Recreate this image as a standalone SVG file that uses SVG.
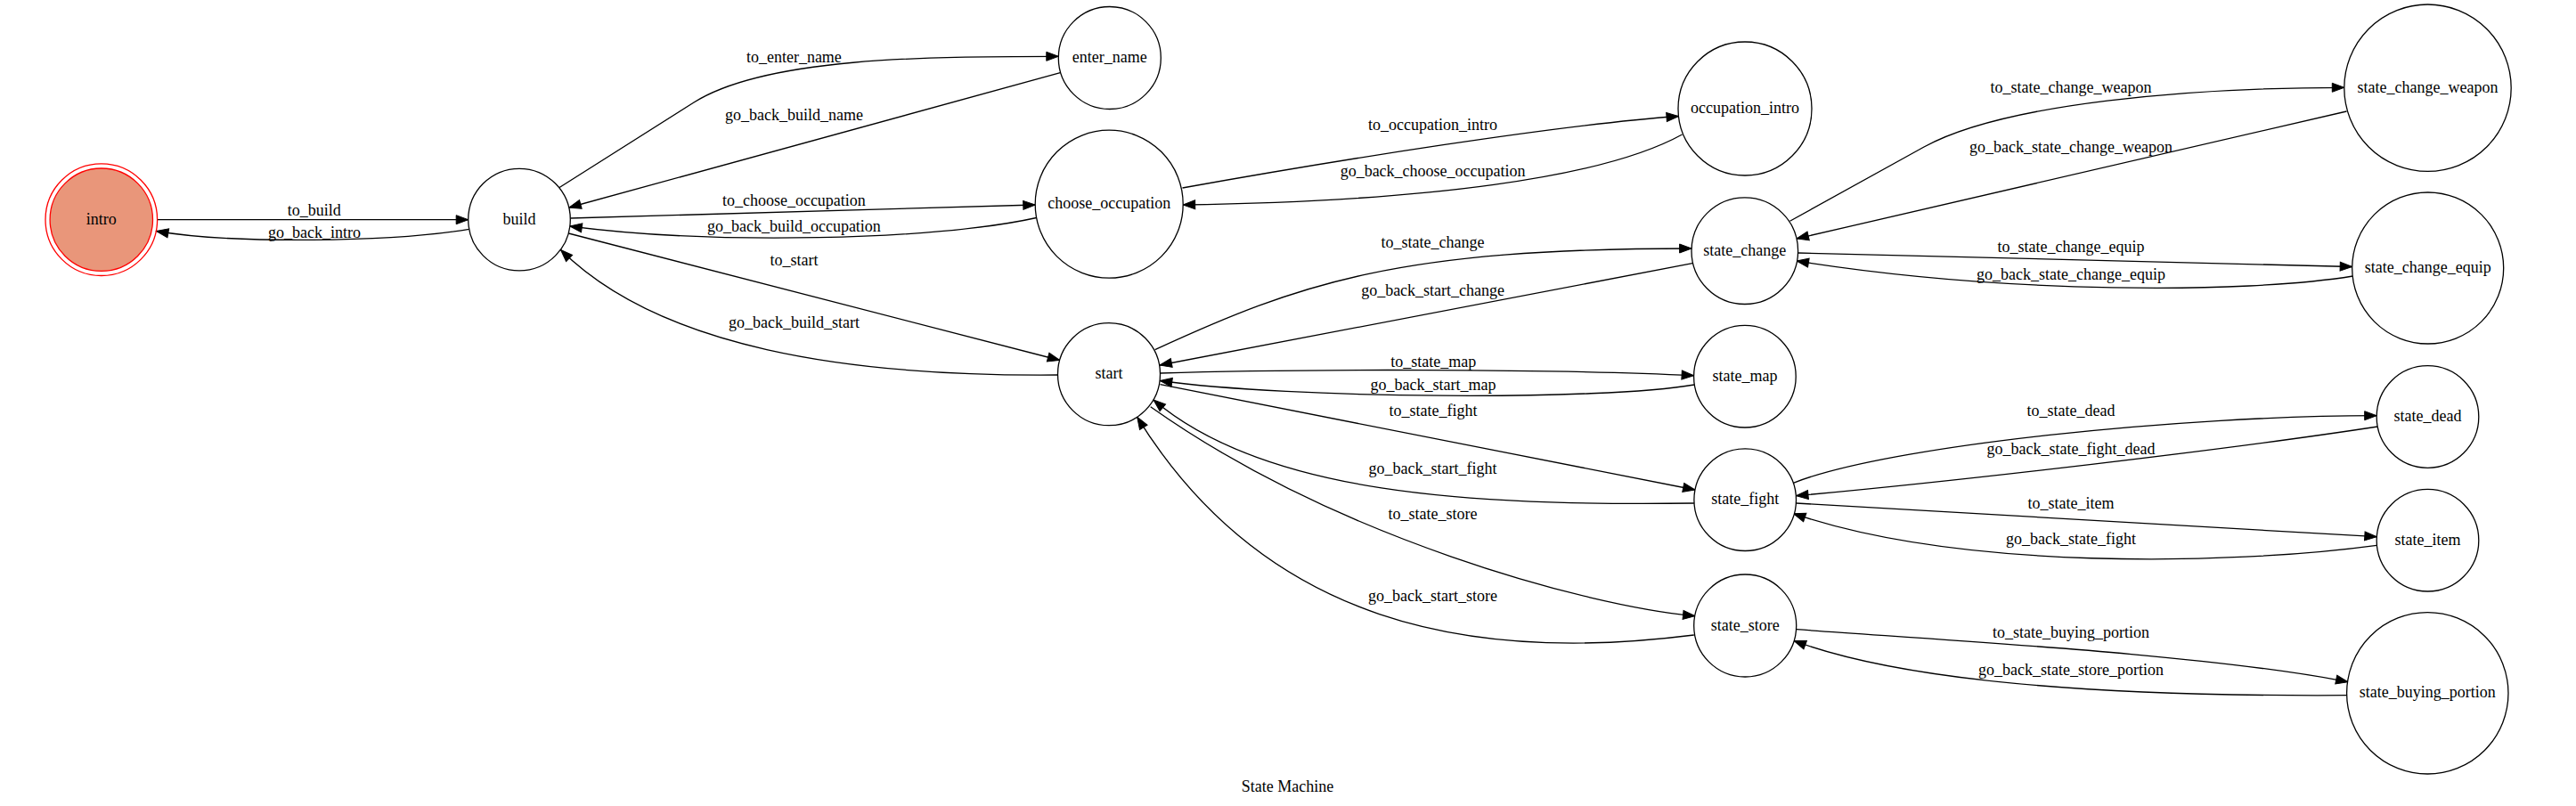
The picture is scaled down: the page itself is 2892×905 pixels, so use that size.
<svg xmlns="http://www.w3.org/2000/svg" width="2892" height="905" viewBox="0 0 2892 905">
<style>
text{font-family:"Liberation Serif","Times New Roman",serif;font-size:18px;fill:#000;text-anchor:middle}
.n{fill:#fff;stroke:#000;stroke-width:1.3}
.e{fill:none;stroke:#000;stroke-width:1.3;marker-end:url(#arr)}
</style>
<defs>
<marker id="arr" markerUnits="userSpaceOnUse" markerWidth="16" markerHeight="12" refX="13.5" refY="5" orient="auto" viewBox="-1 -1 16 12" overflow="visible">
<path d="M0,0 L13.5,5 L0,10 z" fill="#000" stroke="#000" stroke-width="1"/>
</marker>
</defs>
<rect width="2892" height="905" fill="#fff"/>
<g id="connectors">
<g id="e-to_build"><path class="e" d="M176.6,246.7 L525.7,246.7"/><text x="352.7" y="241.7">to_build</text></g>
<g id="e-go_back_intro"><path class="e" d="M526.7,257.3 C440,272 260,274 175.5,259.5"/><text x="353" y="266.7">go_back_intro</text></g>
<g id="e-to_enter_name"><path class="e" d="M627.7,210.7 L779,115 C859,64.6 1039,63.3 1188.3,63.3"/><text x="891.4" y="70">to_enter_name</text></g>
<g id="e-go_back_build_name"><path class="e" d="M1190.3,81.7 L638.8,233"/><text x="891.4" y="135">go_back_build_name</text></g>
<g id="e-to_choose_occupation"><path class="e" d="M640.3,245 L1162.3,230"/><text x="891.4" y="231">to_choose_occupation</text></g>
<g id="e-go_back_build_occupation"><path class="e" d="M1163.6,244.5 C1050,270 800,275 639.8,254"/><text x="891.4" y="260">go_back_build_occupation</text></g>
<g id="e-to_start"><path class="e" d="M638.3,262 L1189.7,404.5"/><text x="891.4" y="298">to_start</text></g>
<g id="e-go_back_build_start"><path class="e" d="M1187.5,421 C950,423 740,390 629.5,280.5"/><text x="891.4" y="368">go_back_build_start</text></g>
<g id="e-to_occupation_intro"><path class="e" d="M1327.5,211 C1500,180 1750,140 1884.5,130.5"/><text x="1608.6" y="146">to_occupation_intro</text></g>
<g id="e-go_back_choose_occupation"><path class="e" d="M1888.5,151 C1800,200 1600,226 1328.2,230"/><text x="1608.6" y="198">go_back_choose_occupation</text></g>
<g id="e-to_state_change"><path class="e" d="M1296.7,392.7 C1460,317.5 1570,279 1899.1,279"/><text x="1608.6" y="278.3">to_state_change</text></g>
<g id="e-go_back_start_change"><path class="e" d="M1900,295.7 L1302,410"/><text x="1608.6" y="331.7">go_back_start_change</text></g>
<g id="e-to_state_map"><path class="e" d="M1302.5,419 C1450,414 1750,414 1901.6,421.7"/><text x="1609.3" y="411.7">to_state_map</text></g>
<g id="e-go_back_start_map"><path class="e" d="M1902,432 C1800,450 1450,448 1302.3,427.5"/><text x="1609" y="438.3">go_back_start_map</text></g>
<g id="e-to_state_fight"><path class="e" d="M1302.5,431.7 L1903,550"/><text x="1609" y="467.3">to_state_fight</text></g>
<g id="e-go_back_start_fight"><path class="e" d="M1901.9,565 C1650,568 1420,555 1295,449"/><text x="1608.6" y="531.7">go_back_start_fight</text></g>
<g id="e-to_state_store"><path class="e" d="M1291.7,456.7 C1500,604 1780,680 1903,691.7"/><text x="1608.6" y="583.3">to_state_store</text></g>
<g id="e-go_back_start_store"><path class="e" d="M1901.8,713 C1650,745 1420,700 1276.7,468.3"/><text x="1608.6" y="675">go_back_start_store</text></g>
<g id="e-to_state_change_weapon"><path class="e" d="M2009.5,248.3 L2160,165 C2250,115.5 2461.7,98.3 2631.8,98.3"/><text x="2325" y="104">to_state_change_weapon</text></g>
<g id="e-go_back_state_change_weapon"><path class="e" d="M2634.5,125 L2017,268"/><text x="2325" y="171">go_back_state_change_weapon</text></g>
<g id="e-to_state_change_equip"><path class="e" d="M2018.5,284 L2640.7,299.5"/><text x="2325" y="282.7">to_state_change_equip</text></g>
<g id="e-go_back_state_change_equip"><path class="e" d="M2641.5,310 C2520,330 2250,330 2017,293"/><text x="2325" y="314.3">go_back_state_change_equip</text></g>
<g id="e-to_state_dead"><path class="e" d="M2013.3,542.3 C2120,500 2450,466.7 2668.2,466.7"/><text x="2325" y="466.7">to_state_dead</text></g>
<g id="e-go_back_state_fight_dead"><path class="e" d="M2669.3,479 C2500,505 2200,540 2016.5,556.7"/><text x="2325" y="510">go_back_state_fight_dead</text></g>
<g id="e-to_state_item"><path class="e" d="M2016.5,565 L2668.3,602.7"/><text x="2325" y="571">to_state_item</text></g>
<g id="e-go_back_state_fight"><path class="e" d="M2668.3,612.3 C2500,635 2200,640 2013.5,576.7"/><text x="2325" y="611">go_back_state_fight</text></g>
<g id="e-to_state_buying_portion"><path class="e" d="M2016.7,706.7 C2200,720 2480,735 2636,765.7"/><text x="2325" y="716">to_state_buying_portion</text></g>
<g id="e-go_back_state_store_portion"><path class="e" d="M2634.6,780.7 C2400,782 2150,770 2014,719.5"/><text x="2325" y="758.3">go_back_state_store_portion</text></g>
</g>
<g id="intro"><circle cx="113.8" cy="246.7" r="62.8" fill="none" stroke="#ff0000" stroke-width="1.3"/><circle cx="113.8" cy="246.7" r="57.7" fill="#e9967a" stroke="#ff0000" stroke-width="1.3"/><text x="113.8" y="251.7">intro</text></g>
<g id="build"><circle class="n" cx="583" cy="246.6" r="57.3"/><text x="583" y="251.6">build</text></g>
<g id="enter_name"><circle class="n" cx="1245.8" cy="65" r="57.5"/><text x="1245.8" y="70">enter_name</text></g>
<g id="choose_occupation"><circle class="n" cx="1245.2" cy="229.2" r="83"/><text x="1245.2" y="234.2">choose_occupation</text></g>
<g id="start"><circle class="n" cx="1245" cy="420.2" r="57.5"/><text x="1245" y="425.2">start</text></g>
<g id="occupation_intro"><circle class="n" cx="1959" cy="122" r="75"/><text x="1959" y="127">occupation_intro</text></g>
<g id="state_change"><circle class="n" cx="1958.8" cy="281.7" r="59.8"/><text x="1958.8" y="286.7">state_change</text></g>
<g id="state_map"><circle class="n" cx="1958.9" cy="422.7" r="57.3"/><text x="1958.9" y="427.7">state_map</text></g>
<g id="state_fight"><circle class="n" cx="1959.2" cy="561.2" r="57.3"/><text x="1959.2" y="566.2">state_fight</text></g>
<g id="state_store"><circle class="n" cx="1959.2" cy="702.5" r="57.5"/><text x="1959.2" y="707.5">state_store</text></g>
<g id="state_change_weapon"><circle class="n" cx="2725.5" cy="98.7" r="93.7"/><text x="2725.5" y="103.7">state_change_weapon</text></g>
<g id="state_change_equip"><circle class="n" cx="2725.7" cy="301" r="85"/><text x="2725.7" y="306">state_change_equip</text></g>
<g id="state_dead"><circle class="n" cx="2725.5" cy="468" r="57.3"/><text x="2725.5" y="473">state_dead</text></g>
<g id="state_item"><circle class="n" cx="2725.5" cy="606.7" r="57.3"/><text x="2725.5" y="611.7">state_item</text></g>
<g id="state_buying_portion"><circle class="n" cx="2725.3" cy="778.3" r="90.7"/><text x="2725.3" y="783.3">state_buying_portion</text></g>
<g id="title"><text x="1445.5" y="889">State Machine</text></g>
</svg>
